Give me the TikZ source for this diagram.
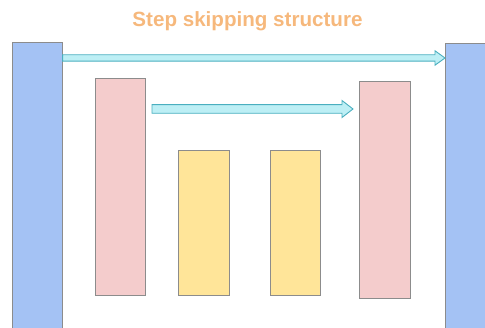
\documentclass[tikz,border=0pt]{standalone}
\usepackage{fontspec}
\setmainfont{Liberation Sans}
\usetikzlibrary{calc}
\begin{document}
\begin{tikzpicture}[x=1pt,y=-1pt,
  blk/.style={draw=black!45, line width=0.6pt, inner sep=0pt, anchor=north west},
  bluebox/.style={blk, fill=blueF},
  pinkbox/.style={blk, fill=pinkF},
  yellowbox/.style={blk, fill=yellowF},
  skiparrow/.style={fill=arrowF, draw=arrowD, line width=0.9pt, line join=miter}]
\definecolor{blueF}{HTML}{A4C2F4}
\definecolor{pinkF}{HTML}{F4CCCC}
\definecolor{yellowF}{HTML}{FFE599}
\definecolor{arrowF}{HTML}{BDEFF5}
\definecolor{arrowD}{HTML}{4AAFBF}
\definecolor{titleC}{HTML}{F6B87C}
\useasboundingbox (0,0) rectangle (485,328);
\clip (0,0) rectangle (485,328);
\node[text=titleC, font=\fontsize{20.6}{24}\selectfont\bfseries, anchor=base, inner sep=0pt] (title) at (247.5,26.7) {Step skipping structure};
\node[bluebox, minimum width=50pt, minimum height=290pt] (lb) at (12,42) {};
\node[bluebox, minimum width=45pt, minimum height=290pt] (rb) at (445,43) {};
\node[pinkbox, minimum width=50pt, minimum height=217pt] (p1) at (95,78) {};
\node[yellowbox, minimum width=51pt, minimum height=145pt] (y1) at (178,150) {};
\node[yellowbox, minimum width=50pt, minimum height=145pt] (y2) at (270,150) {};
\node[pinkbox, minimum width=51pt, minimum height=217pt] (p2) at (359,81) {};
% long skip arrow
\coordinate (a1s) at (lb.north east |- 0,58);
\coordinate (a1e) at (rb.north west |- 0,58);
\draw[skiparrow] ($(a1s)+(0,-3.2)$) -- ($(a1e)+(-10,-3.2)$) -- ($(a1e)+(-10,-7.2)$) -- (a1e)
  -- ($(a1e)+(-10,7.2)$) -- ($(a1e)+(-10,3.2)$) -- ($(a1s)+(0,3.2)$) -- cycle;
% short skip arrow
\coordinate (a2s) at (152,109);
\coordinate (a2e) at (353,109);
\draw[skiparrow] ($(a2s)+(0,-4.3)$) -- ($(a2e)+(-11,-4.3)$) -- ($(a2e)+(-11,-8.5)$) -- (a2e)
  -- ($(a2e)+(-11,8.5)$) -- ($(a2e)+(-11,4.3)$) -- ($(a2s)+(0,4.3)$) -- cycle;
\end{tikzpicture}
\end{document}
